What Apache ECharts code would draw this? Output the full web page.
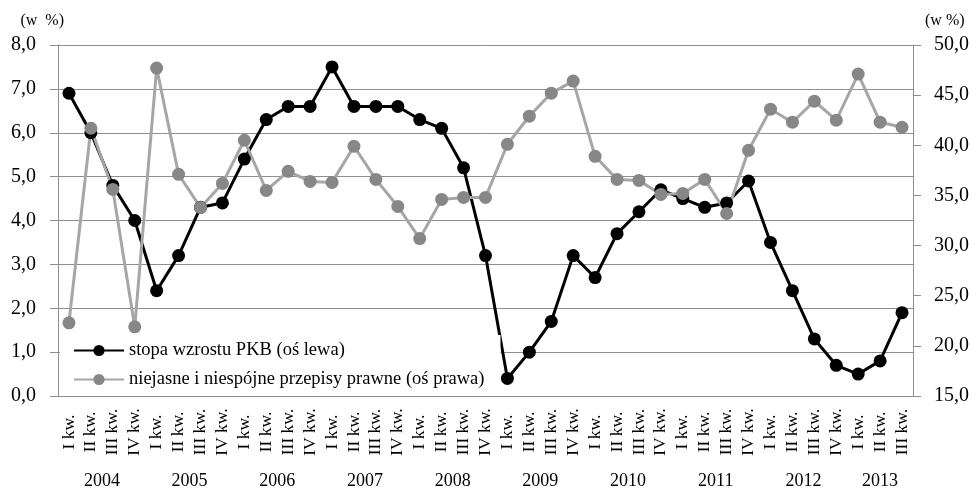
<!DOCTYPE html>
<html>
<head>
<meta charset="utf-8">
<script src="https://cdn.jsdelivr.net/npm/echarts@6/dist/echarts.min.js"></script>
<style>
  html, body { margin: 0; padding: 0; background: #fff; }
  #chart { width: 978px; height: 491px; }
</style>
</head>
<body>
<div id="chart"></div>
<script>
  // lata i kwartały
  const years = ['2004', '2005', '2006', '2007', '2008', '2009', '2010', '2011', '2012', '2013'];
  const quarterNames = ['I kw.', 'II kw.', 'III kw.', 'IV kw.'];
  // stopa wzrostu PKB (oś lewa)
  const pkb = [6.9, 6.0, 4.8, 4.0, 2.4, 3.2, 4.3, 4.4, 5.4, 6.3, 6.6, 6.6, 7.5, 6.6, 6.6, 6.6,
    6.3, 6.1, 5.2, 3.2, 0.4, 1.0, 1.7, 3.2, 2.7, 3.7, 4.2, 4.7, 4.5, 4.3, 4.4, 4.9,
    3.5, 2.4, 1.3, 0.7, 0.5, 0.8, 1.9];
  // niejasne i niespójne przepisy prawne (oś prawa)
  const przepisy = [22.3, 41.7, 35.6, 21.9, 47.7, 37.1, 33.8, 36.2, 40.5, 35.5, 37.4, 36.4, 36.3, 39.9, 36.6, 33.9,
    30.7, 34.6, 34.8, 34.8, 40.1, 42.9, 45.2, 46.4, 38.9, 36.6, 36.5, 35.1, 35.2, 36.6, 33.2, 39.5,
    43.6, 42.3, 44.4, 42.5, 47.1, 42.3, 41.8];

  const seriesNames = ['stopa wzrostu PKB (oś lewa)', 'niejasne i niespójne przepisy prawne (oś prawa)'];

  // kategorie: "rok|kwartał"
  const categories = [];
  years.forEach(y => {
    quarterNames.forEach(q => {
      if (categories.length < pkb.length) categories.push(y + '|' + q);
    });
  });

  const font = 'Liberation Serif';
  const gridColor = '#8f8f8f';
  const fmt = v => v.toFixed(1).replace('.', ',');

  // indeks, pod którym stoi etykieta roku (środek grupy)
  function yearLabelIndex(i) {
    const start = i - (i % 4);
    const count = Math.min(4, categories.length - start);
    return start + Math.floor((count - 1) / 2);
  }

  const myChart = echarts.init(document.getElementById('chart'));
  const option = {
    animation: false,
    textStyle: { fontFamily: font },
    grid: { left: 58, right: 65, top: 45, bottom: 95 },
    legend: {
      data: seriesNames,
      orient: 'vertical',
      left: 60,
      top: 335,
      padding: [6, 16, 5, 13],
      itemGap: 10,
      itemWidth: 50,
      itemHeight: 14,
      backgroundColor: '#fff',
      selectedMode: false,
      textStyle: { fontFamily: font, fontSize: 18.5, color: '#000' }
    },
    xAxis: [
      {
        type: 'category',
        data: categories,
        position: 'bottom',
        axisLine: { lineStyle: { color: gridColor, width: 1 } },
        axisTick: { interval: 0, length: 63, lineStyle: { color: gridColor } },
        axisLabel: {
          interval: 0,
          rotate: 90,
          align: 'center',
          margin: 36,
          fontFamily: font,
          fontSize: 17.5,
          color: '#000',
          formatter: v => v.split('|')[1]
        }
      },
      {
        type: 'category',
        data: categories,
        position: 'bottom',
        axisLine: { show: false },
        axisTick: {
          interval: (i) => i % 4 === 0,
          length: 96,
          lineStyle: { color: gridColor }
        },
        axisLabel: {
          interval: (i) => i === yearLabelIndex(i),
          margin: 76,
          fontFamily: font,
          fontSize: 18,
          color: '#000',
          formatter: (v, i) => {
            const start = i - (i % 4);
            const count = Math.min(4, categories.length - start);
            const y = v.split('|')[0];
            return count % 2 === 0 ? '{s|' + y + '}' : '{c|' + y + '}';
          },
          rich: {
            s: { fontFamily: font, fontSize: 18, color: '#000', padding: [0, 0, 0, 22] },
            c: { fontFamily: font, fontSize: 18, color: '#000' }
          }
        }
      }
    ],
    yAxis: [
      {
        type: 'value',
        min: 0,
        max: 8,
        interval: 1,
        name: '(w  %)',
        nameLocation: 'end',
        nameGap: 16,
        nameTextStyle: { fontFamily: font, fontSize: 16, color: '#000', align: 'right', padding: [0, -6, 0, 0] },
        axisLine: { show: true, lineStyle: { color: gridColor } },
        axisTick: { show: true, length: 8, lineStyle: { color: gridColor } },
        axisLabel: { margin: 22, fontFamily: font, fontSize: 20, color: '#000', formatter: fmt },
        splitLine: { show: true, lineStyle: { color: gridColor, width: 1 } }
      },
      {
        type: 'value',
        min: 15,
        max: 50,
        interval: 5,
        position: 'right',
        name: '(w %)',
        nameLocation: 'end',
        nameGap: 16,
        nameTextStyle: { fontFamily: font, fontSize: 16, color: '#000', align: 'left', padding: [0, 0, 0, 12] },
        axisLine: { show: true, lineStyle: { color: gridColor } },
        axisTick: { show: true, length: 8, lineStyle: { color: gridColor } },
        axisLabel: { margin: 21, fontFamily: font, fontSize: 20, color: '#000', formatter: fmt },
        splitLine: { show: false }
      }
    ],
    series: [
      {
        name: seriesNames[0],
        type: 'line',
        xAxisIndex: 0,
        yAxisIndex: 0,
        data: pkb,
        symbol: 'circle',
        symbolSize: 13,
        lineStyle: { color: '#000', width: 3 },
        itemStyle: { color: '#000' }
      },
      {
        name: seriesNames[1],
        type: 'line',
        xAxisIndex: 0,
        yAxisIndex: 1,
        data: przepisy,
        symbol: 'circle',
        symbolSize: 13,
        lineStyle: { color: '#a6a6a6', width: 3 },
        itemStyle: { color: '#878787' }
      }
    ]
  };
  myChart.setOption(option);
</script>
</body>
</html>
